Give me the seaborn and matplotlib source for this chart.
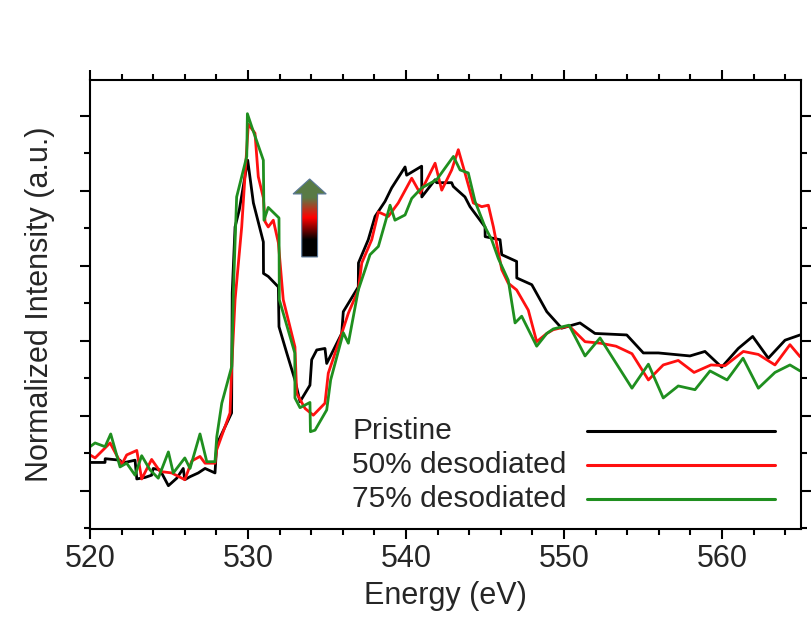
import numpy as np
import pandas as pd
import seaborn as sns
import matplotlib.pyplot as plt
from matplotlib.colors import LinearSegmentedColormap
from matplotlib.patches import Polygon
from matplotlib.ticker import MultipleLocator

# O K-edge spectra (energy in eV, intensity in arbitrary units)
pristine_e = [520.0, 520.95, 520.96, 521.9, 522.0, 522.85, 522.96, 523.48, 523.9, 524.0,
              524.43, 524.96, 525.49, 525.9, 526.0, 526.33, 526.85, 527.28, 527.91, 528.02,
              528.96, 529.0, 529.18, 529.45, 529.98, 530.34, 530.97, 530.98, 531.28, 531.92,
              531.96, 532.45, 532.97, 533.29, 533.92, 534.03, 534.35, 534.87, 534.98, 535.93,
              536.03, 536.98, 536.99, 537.61, 538.04, 538.67, 539.09, 539.94, 540.04, 540.99,
              541.0, 541.84, 541.94, 542.89, 542.99, 543.73, 544.05, 545.0, 545.01, 545.95,
              546.06, 547.0, 547.01, 547.96, 548.91, 549.85, 551.01, 551.96, 553.97, 555.02,
              555.97, 557.97, 558.92, 559.98, 561.03, 561.94, 562.93, 563.99, 564.94]
pristine_i = [0.38, 0.38, 0.43, 0.41, 0.37, 0.41, 0.16, 0.18, 0.21, 0.30,
              0.28, 0.07, 0.17, 0.30, 0.15, 0.19, 0.24, 0.30, 0.24, 0.62,
              1.04, 2.64, 3.52, 3.75, 4.41, 3.84, 3.32, 2.90, 2.86, 2.72,
              2.19, 1.84, 1.48, 1.19, 1.41, 1.75, 1.88, 1.90, 1.70, 2.10,
              2.39, 2.72, 3.04, 3.35, 3.66, 3.86, 4.04, 4.32, 4.21, 4.33,
              3.92, 4.15, 4.11, 4.11, 4.06, 3.92, 3.79, 3.52, 3.39, 3.35,
              3.15, 3.06, 2.84, 2.75, 2.39, 2.17, 2.24, 2.10, 2.08, 1.84,
              1.84, 1.80, 1.86, 1.65, 1.90, 2.06, 1.77, 2.01, 2.08]

half_e = [520.0, 520.32, 521.27, 522.0, 522.32, 522.96, 523.27, 523.9, 524.43, 525.17,
          526.0, 526.44, 526.96, 527.28, 527.91, 528.02, 528.86, 528.97, 529.18, 529.6,
          530.02, 530.44, 530.65, 530.97, 531.08, 531.28, 531.6, 531.92, 532.23, 532.97,
          533.08, 533.61, 534.13, 534.87, 535.08, 535.93, 536.35, 536.98, 537.2, 537.83,
          538.25, 538.88, 539.51, 540.36, 540.89, 541.84, 542.26, 542.89, 543.31, 543.73,
          544.26, 544.79, 545.21, 545.53, 546.06, 546.47, 547.0, 547.74, 548.27, 548.91,
          549.32, 550.32, 551.33, 552.31, 553.29, 554.30, 555.34, 556.28, 557.23, 558.23,
          559.30, 560.19, 561.35, 562.30, 563.35, 564.30, 564.94]
half_i = [0.48, 0.44, 0.64, 0.35, 0.48, 0.54, 0.16, 0.42, 0.26, 0.24,
          0.15, 0.40, 0.46, 0.37, 0.37, 0.55, 1.04, 1.66, 2.55, 3.52,
          4.89, 4.77, 4.19, 3.91, 3.59, 3.52, 3.61, 3.31, 2.55, 1.92,
          1.30, 1.10, 1.01, 1.17, 1.57, 2.10, 2.37, 2.68, 3.04, 3.35,
          3.72, 3.66, 3.84, 4.17, 3.97, 4.37, 4.01, 4.28, 4.55, 4.24,
          3.84, 3.79, 3.81, 3.52, 2.95, 2.77, 2.68, 2.41, 1.99, 2.10,
          2.15, 2.20, 1.99, 1.97, 1.93, 1.83, 1.48, 1.68, 1.74, 1.58,
          1.68, 1.67, 1.86, 1.82, 1.68, 1.95, 1.79]

three_q_e = [520.0, 520.32, 520.95, 521.31, 521.9, 522.32, 522.85, 523.27, 523.8, 524.32,
             524.96, 525.27, 526.0, 526.33, 526.96, 527.39, 527.91, 528.02, 528.34, 528.97,
             529.07, 529.28, 529.92, 529.96, 530.23, 530.97, 531.01, 531.28, 531.96, 531.98,
             532.96, 532.97, 533.29, 533.92, 533.95, 534.24, 534.98, 535.23, 536.03, 536.35,
             536.98, 537.41, 537.72, 538.25, 538.67, 538.99, 539.3, 539.94, 540.36, 540.99,
             541.94, 543.0, 543.42, 543.94, 544.37, 545.0, 545.42, 545.84, 546.47, 546.9,
             547.32, 548.27, 548.91, 549.32, 550.32, 551.33, 552.28, 554.30, 555.34, 556.28,
             557.23, 558.29, 559.24, 560.32, 561.33, 562.30, 563.35, 564.30, 564.94]
three_q_i = [0.59, 0.64, 0.59, 0.76, 0.32, 0.37, 0.21, 0.47, 0.28, 0.17,
             0.52, 0.24, 0.44, 0.30, 0.76, 0.39, 0.39, 0.72, 1.17, 1.66,
             2.64, 3.92, 4.46, 5.03, 4.86, 4.41, 3.61, 3.78, 3.64, 2.55,
             1.84, 1.24, 1.11, 1.18, 0.79, 0.81, 1.08, 1.48, 2.11, 1.97,
             2.68, 2.95, 3.15, 3.26, 3.57, 3.81, 3.61, 3.68, 3.90, 4.04,
             4.15, 4.46, 4.28, 4.24, 3.86, 3.52, 3.35, 3.10, 2.81, 2.24,
             2.33, 1.93, 2.10, 2.16, 2.21, 1.80, 2.04, 1.37, 1.69, 1.24,
             1.40, 1.35, 1.60, 1.48, 1.77, 1.37, 1.58, 1.68, 1.60]

labels = ["Pristine", "50% desodiated", "75% desodiated"]
colors = ["#000000", "#ff1010", "#1f8f1f"]

sns.set_style("ticks")
plt.rcParams['font.family'] = ['Liberation Sans', 'DejaVu Sans']

df = pd.concat([
    pd.DataFrame({"energy": pristine_e, "intensity": pristine_i, "sample": labels[0]}),
    pd.DataFrame({"energy": half_e, "intensity": half_i, "sample": labels[1]}),
    pd.DataFrame({"energy": three_q_e, "intensity": three_q_i, "sample": labels[2]}),
], ignore_index=True)

fig = plt.figure(figsize=(8.11, 6.26), dpi=100)
ax = fig.add_axes([0.111, 0.155, 0.8767, 0.7173])

sns.lineplot(data=df, x="energy", y="intensity", hue="sample",
             palette=dict(zip(labels, colors)), estimator=None, sort=False,
             lw=2.0, legend=False, ax=ax)

# gradient arrow (black -> red -> green)
cx, y0, yb, yt = 533.9, 3.12, 3.96, 4.16
pts = [(cx - 0.5, y0), (cx + 0.5, y0), (cx + 0.5, yb), (cx + 1.05, yb),
       (cx, yt), (cx - 1.05, yb), (cx - 0.5, yb)]
cmap = LinearSegmentedColormap.from_list(
    "arr", [(0, "#000000"), (0.22, "#000000"), (0.5, "#ff0000"),
            (0.75, "#5a7a45"), (1, "#587c45")])
grad = np.linspace(0, 1, 256).reshape(-1, 1)
im = ax.imshow(grad, extent=[cx - 1.05, cx + 1.05, y0, yt], origin="lower",
               aspect="auto", cmap=cmap, zorder=3)
arrow = Polygon(pts, closed=True, facecolor="none", edgecolor="#5a7898", lw=0.8, zorder=4)
ax.add_patch(arrow)
im.set_clip_path(arrow)

# legend: text left, long line samples on the right
for k, (name, col) in enumerate(zip(labels, colors)):
    yy = 0.218 - k * 0.0757
    ax.text(0.3685, yy, name, transform=ax.transAxes, fontsize=21.5, va="center")
    ax.plot([0.699, 0.963], [yy, yy], transform=ax.transAxes, color=col, lw=2.2)

ax.set_xlim(520, 565)
ax.set_ylim(-0.507, 5.48)
ax.xaxis.set_major_locator(MultipleLocator(10))
ax.xaxis.set_minor_locator(MultipleLocator(2))
ax.yaxis.set_major_locator(MultipleLocator(1))
ax.yaxis.set_minor_locator(MultipleLocator(0.5))
ax.tick_params(which="both", direction="out", top=True, right=True,
               labelleft=False, labeltop=False, labelright=False, width=1.5, color="black")
ax.tick_params(which="major", length=7, pad=4, labelsize=22)
ax.tick_params(which="minor", length=4)
for s in ax.spines.values():
    s.set_linewidth(1.5)
    s.set_color("black")

ax.set_xlabel("Energy (eV)", fontsize=22, labelpad=5)
ax.set_ylabel("Normalized Intensity (a.u.)", fontsize=22, labelpad=18)

fig.savefig("out.png", dpi=100, facecolor="white")
